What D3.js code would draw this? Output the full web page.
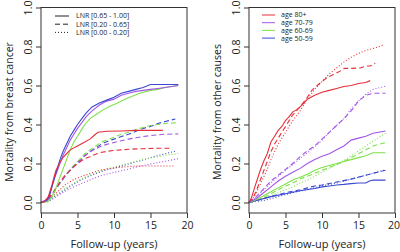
<!DOCTYPE html>
<html>
<head>
<meta charset="utf-8">
<title>Mortality by LNR and age</title>
<script src="https://cdn.jsdelivr.net/npm/d3@7"></script>
<style>
  body { margin: 0; background: #fff; }
  text { font-family: "Open Sans", sans-serif; fill: #222; }
</style>
</head>
<body>
<svg id="svg"></svg>
<script>
var WIDTH = 400, HEIGHT = 252;

// tick labels
var xTicks = [0, 5, 10, 15, 20];
var yTicks = [0, 0.2, 0.4, 0.6, 0.8, 1.0];

// legend labels
var lnrLabels = ["LNR [0.65 - 1.00]", "LNR [0.20 - 0.65]", "LNR [0.00 - 0.20]"];
var ageLabels = ["age 80+", "age 70-79", "age 60-69", "age 50-59"];
var ageColors = ["#e5303a", "#a356e6", "#7fe04a", "#3a48d2"];

// --- breast cancer mortality: [years, value], age 50-59 / 60-69 / 70-79 / 80+, LNR high/mid/low
var bc_blue_hi = [[0,0],[0.8,0.01],[1.2,0.04],[1.7,0.11],[2.2,0.17],[2.6,0.22],[3,0.26],[3.5,0.3],[4,0.34],[4.5,0.37],[5,0.4],[5.6,0.43],[6.2,0.46],[7,0.49],[8,0.51],[9,0.525],[10,0.54],[11,0.56],[12,0.57],[13,0.58],[14,0.59],[15,0.605],[16.5,0.605],[18.8,0.605]];
var bc_purple_hi = [[0,0],[1,0.02],[1.5,0.08],[2,0.14],[2.5,0.19],[3,0.24],[3.5,0.28],[4,0.32],[4.5,0.35],[5,0.38],[5.6,0.41],[6.2,0.44],[7,0.47],[8,0.5],[9,0.52],[10,0.53],[11,0.55],[12,0.56],[13,0.57],[14,0.575],[15,0.58],[16,0.585],[17,0.59],[18.8,0.6]];
var bc_green_hi = [[0,0],[1,0.005],[1.5,0.03],[2,0.07],[2.5,0.12],[3,0.17],[3.5,0.22],[4,0.27],[4.5,0.31],[5,0.34],[5.5,0.37],[6,0.4],[6.7,0.43],[7.5,0.45],[8.5,0.475],[9.5,0.495],[10.5,0.51],[11.5,0.53],[12.5,0.545],[13.5,0.56],[15,0.575],[16,0.58],[17,0.59],[18.8,0.6]];
var bc_red_hi = [[0,0],[0.5,0.005],[1,0.03],[1.5,0.09],[2,0.16],[2.5,0.2],[3,0.23],[3.5,0.25],[4,0.27],[5,0.29],[5.5,0.3],[6,0.31],[6.7,0.325],[7.3,0.345],[7.8,0.36],[9,0.365],[11,0.367],[13,0.37],[16.7,0.37]];

var bc_blue_mid = [[0,0],[0.8,0.01],[1.5,0.04],[2,0.07],[2.6,0.1],[3,0.12],[3.5,0.145],[4,0.167],[4.5,0.185],[5,0.205],[5.5,0.22],[6,0.24],[6.7,0.26],[7.5,0.28],[8.3,0.3],[9,0.312],[10,0.325],[11,0.338],[12,0.35],[13,0.365],[14,0.38],[15,0.39],[16,0.405],[17,0.415],[18.4,0.428]];
var bc_purple_mid = [[0,0],[1,0.01],[1.5,0.035],[2,0.065],[2.6,0.1],[3,0.12],[3.5,0.145],[4,0.165],[4.5,0.185],[5,0.205],[5.5,0.22],[6,0.24],[6.7,0.26],[7.5,0.275],[8.3,0.29],[9,0.298],[10,0.308],[11,0.317],[12,0.325],[13,0.332],[14,0.338],[15,0.343],[16,0.347],[17,0.35],[18.8,0.352]];
var bc_green_mid = [[0,0],[1,0.01],[1.5,0.035],[2,0.065],[2.6,0.1],[3,0.12],[3.5,0.145],[4,0.17],[4.5,0.19],[5,0.21],[5.5,0.23],[6,0.25],[6.7,0.27],[7.5,0.29],[8.3,0.31],[9,0.32],[10,0.335],[11,0.35],[12,0.36],[13,0.375],[14,0.385],[15,0.395],[16,0.4],[17,0.405],[18.8,0.41]];
var bc_red_mid = [[0,0],[0.7,0.01],[1.2,0.03],[1.8,0.06],[2.6,0.105],[3.2,0.135],[4,0.165],[4.7,0.19],[5.4,0.21],[6,0.225],[6.7,0.235],[7.3,0.245],[8,0.255],[9,0.262],[10,0.267],[11,0.27],[12,0.273],[14,0.276],[16,0.278],[17.7,0.278]];

var bc_blue_lo = [[0,0],[1,0.005],[1.6,0.025],[2.5,0.045],[3.4,0.068],[4.5,0.095],[5.7,0.12],[7,0.14],[8,0.155],[9,0.168],[10.3,0.18],[11.5,0.192],[12.6,0.204],[14,0.218],[15,0.23],[16.5,0.245],[17.5,0.255],[18.6,0.265]];
var bc_purple_lo = [[0,0],[1,0.005],[1.7,0.02],[2.5,0.04],[3.4,0.06],[4.5,0.08],[5.7,0.1],[7,0.12],[8,0.135],[9,0.145],[10.3,0.157],[11.5,0.167],[12.6,0.177],[14,0.19],[15,0.197],[16.5,0.208],[17.5,0.215],[18.8,0.225]];
var bc_green_lo = [[0,0],[0.8,0.005],[1.5,0.025],[2.5,0.05],[3.4,0.075],[4.5,0.1],[5.7,0.125],[7,0.145],[8,0.16],[9,0.172],[10.3,0.185],[11.5,0.197],[12.6,0.207],[14,0.22],[15,0.228],[16.5,0.238],[17.5,0.245],[18.8,0.25]];
var bc_red_lo = [[0,0],[0.5,0.005],[1,0.015],[1.5,0.03],[2.1,0.05],[2.7,0.07],[3.4,0.093],[4.5,0.118],[5.7,0.136],[7,0.153],[8,0.165],[9,0.172],[10.3,0.178],[11.5,0.183],[12.6,0.186],[14,0.187],[16,0.187],[18.4,0.187]];

// --- other causes mortality
var oc_red_hi = [[0,0],[0.3,0.02],[0.8,0.08],[1.5,0.16],[2,0.21],[2.5,0.25],[3,0.31],[3.5,0.34],[4,0.37],[4.5,0.39],[5,0.42],[5.5,0.44],[6,0.465],[6.5,0.475],[7,0.49],[7.5,0.51],[8,0.53],[9,0.55],[10,0.565],[11,0.575],[12,0.585],[13,0.595],[14,0.6],[15,0.61],[16,0.615],[16.6,0.625]];
var oc_red_mid = [[0,0],[0.5,0.02],[1,0.06],[1.5,0.11],[2,0.16],[2.5,0.21],[3,0.26],[3.5,0.3],[4,0.33],[4.5,0.36],[5,0.39],[5.5,0.42],[6,0.45],[6.5,0.47],[7,0.49],[7.5,0.515],[8,0.54],[8.5,0.57],[9,0.59],[9.5,0.605],[10,0.62],[10.7,0.64],[11.5,0.655],[12.3,0.67],[13.1,0.688],[14,0.688],[15.2,0.69],[16.1,0.7],[16.6,0.7],[17.3,0.714]];
var oc_red_lo = [[0,0],[0.5,0.02],[1,0.05],[1.5,0.09],[2,0.13],[2.5,0.17],[3,0.22],[3.5,0.26],[4,0.3],[4.5,0.33],[5,0.36],[5.5,0.39],[6,0.42],[6.5,0.445],[7,0.47],[7.5,0.5],[8,0.53],[8.5,0.555],[9,0.58],[10,0.62],[11,0.66],[12,0.69],[13,0.72],[14,0.745],[15,0.765],[16,0.78],[17,0.79],[18.5,0.808]];

var oc_purple_hi = [[0,0],[1,0.02],[2,0.05],[3,0.08],[4,0.11],[5,0.135],[6,0.155],[7,0.175],[8,0.2],[9,0.22],[10,0.237],[11,0.25],[12,0.27],[13,0.29],[14,0.32],[15,0.33],[16,0.34],[17,0.355],[18.7,0.367]];
var oc_purple_mid = [[0,0],[1,0.03],[2,0.07],[3,0.11],[4,0.14],[5,0.17],[6,0.2],[7,0.235],[8,0.265],[9,0.29],[10,0.325],[11,0.36],[12,0.395],[13,0.43],[14,0.47],[15,0.52],[16,0.55],[17,0.56],[18.7,0.56]];
var oc_purple_lo = [[0,0],[1,0.025],[2,0.065],[3,0.1],[4,0.135],[5,0.165],[6,0.195],[7,0.225],[8,0.255],[9,0.285],[10,0.32],[11,0.36],[12,0.395],[13,0.43],[14,0.48],[15,0.52],[16,0.555],[17,0.58],[18.7,0.597]];

var oc_green_hi = [[0,0],[1,0.015],[2,0.035],[3,0.055],[4,0.075],[5,0.095],[6,0.115],[7,0.13],[8,0.145],[9,0.165],[10,0.18],[11,0.19],[12,0.2],[13,0.21],[14,0.22],[15,0.23],[16,0.24],[17,0.255],[18.7,0.255]];
var oc_green_mid = [[0,0],[1,0.01],[2,0.025],[3,0.045],[4,0.065],[5,0.085],[6,0.1],[7,0.12],[8,0.135],[9,0.15],[10,0.165],[11,0.18],[12,0.195],[13,0.21],[14,0.23],[15,0.25],[16,0.27],[17,0.29],[18.7,0.307]];
var oc_green_lo = [[0,0],[1,0.008],[2,0.02],[3,0.035],[4,0.05],[5,0.065],[6,0.08],[7,0.1],[8,0.115],[9,0.135],[10,0.155],[11,0.175],[12,0.195],[13,0.215],[14,0.24],[15,0.265],[16,0.29],[17,0.315],[18.7,0.355]];

var oc_blue_hi = [[0,0],[1,0.01],[3,0.03],[5,0.045],[7,0.06],[9,0.072],[10,0.08],[11,0.085],[12,0.09],[13,0.093],[14,0.097],[15,0.1],[16,0.1],[16.5,0.11],[17,0.115],[18.7,0.115]];
var oc_blue_mid = [[0,0],[1,0.01],[3,0.03],[5,0.05],[7,0.065],[8,0.075],[9,0.085],[10,0.09],[12,0.105],[14,0.12],[15,0.13],[16,0.14],[17,0.15],[18.7,0.165]];
var oc_blue_lo = [[0,0],[2,0.01],[4,0.03],[6,0.05],[8,0.068],[10,0.085],[12,0.1],[14,0.12],[16,0.14],[17.5,0.155],[18.7,0.168]];

var dashes = ["none", "5,3", "1,2"];

var svg = d3.select("#svg").attr("width", WIDTH).attr("height", HEIGHT);

var drawPanel = function(left, ytitle, series){
    var right = left + 146;
    var x = d3.scaleLinear().domain([0, 20]).range([left, right]);
    var y = d3.scaleLinear().domain([0, 1]).range([202.5, 7.5]);
    var g = svg.append("g");

    var line = d3.line()
                 .x(function(d){ return x(d[0]); })
                 .y(function(d){ return y(d[1]); });

    series.forEach(function(s){
        g.append("path")
         .datum(s.data)
         .attr("d", line)
         .attr("fill", "none")
         .attr("stroke", s.color)
         .attr("stroke-width", 1.1)
         .attr("stroke-dasharray", s.dash);
    });

    // box
    g.append("rect")
     .attr("x", left).attr("y", 7.5)
     .attr("width", right - left).attr("height", 213 - 7.5)
     .attr("fill", "none").attr("stroke", "#333").attr("stroke-width", 1);

    var xAxis = g.append("g")
                 .attr("transform", "translate(0,213)")
                 .call(d3.axisBottom(x).tickValues(xTicks).tickSize(5).tickPadding(4).tickFormat(d3.format("d")));
    xAxis.select(".domain").remove();
    xAxis.selectAll("line").attr("stroke", "#333");
    xAxis.selectAll("text").attr("font-size", "10.5px").attr("font-family", "Open Sans").attr("fill", "#222");
    // keep the last label inside the page
    if (right > WIDTH - 8) {
        xAxis.selectAll("text").filter(function(d){ return d === 20; })
             .attr("text-anchor", "end").attr("x", WIDTH - 0.5 - right);
    }

    var yAxis = g.append("g")
                 .attr("transform", "translate(" + left + ",0)")
                 .call(d3.axisLeft(y).tickValues(yTicks).tickSize(5).tickFormat(d3.format(".1f")));
    yAxis.select(".domain").remove();
    yAxis.selectAll("line").attr("stroke", "#333");
    yAxis.selectAll("text")
         .attr("font-size", "10.5px").attr("font-family", "Open Sans").attr("fill", "#222")
         .attr("text-anchor", "middle").attr("x", null)
         .attr("transform", "translate(-13,0) rotate(-90)")
         .attr("dy", "0.35em");

    g.append("text")
     .attr("transform", "translate(" + (left - 28) + "," + 112 + ") rotate(-90)")
     .attr("text-anchor", "middle")
     .attr("font-size", "10.5px")
     .text(ytitle);

    g.append("text")
     .attr("x", (left + right) / 2).attr("y", 248)
     .attr("text-anchor", "middle")
     .attr("font-size", "11px")
     .text("Follow-up (years)");
    return g;
};

var colorsByAge = {red: ageColors[0], purple: ageColors[1], green: ageColors[2], blue: ageColors[3]};
var mk = function(data, c, lvl){ return {data: data, color: colorsByAge[c], dash: dashes[lvl]}; };

var leftPanel = drawPanel(41, "Mortality from breast cancer", [
    mk(bc_blue_lo, "blue", 2), mk(bc_green_lo, "green", 2), mk(bc_purple_lo, "purple", 2), mk(bc_red_lo, "red", 2),
    mk(bc_blue_mid, "blue", 1), mk(bc_green_mid, "green", 1), mk(bc_purple_mid, "purple", 1), mk(bc_red_mid, "red", 1),
    mk(bc_green_hi, "green", 0), mk(bc_purple_hi, "purple", 0), mk(bc_blue_hi, "blue", 0), mk(bc_red_hi, "red", 0)
]);

var rightPanel = drawPanel(249, "Mortality from other causes", [
    mk(oc_blue_lo, "blue", 2), mk(oc_green_lo, "green", 2), mk(oc_purple_lo, "purple", 2), mk(oc_red_lo, "red", 2),
    mk(oc_blue_mid, "blue", 1), mk(oc_green_mid, "green", 1), mk(oc_purple_mid, "purple", 1), mk(oc_red_mid, "red", 1),
    mk(oc_blue_hi, "blue", 0), mk(oc_green_hi, "green", 0), mk(oc_purple_hi, "purple", 0), mk(oc_red_hi, "red", 0)
]);

// legend, left: line types
var legL = svg.append("g").attr("transform", "translate(55,16)");
lnrLabels.forEach(function(lab, i){
    legL.append("line").attr("x1", 0).attr("x2", 14).attr("y1", i * 8.2).attr("y2", i * 8.2)
        .attr("stroke", "#222").attr("stroke-width", 1).attr("stroke-dasharray", dashes[i]);
    legL.append("text").attr("x", 21).attr("y", i * 8.2).attr("dy", "0.35em")
        .attr("font-size", "7px").text(lab);
});

// legend, right: colours
var legR = svg.append("g").attr("transform", "translate(262,15)");
ageLabels.forEach(function(lab, i){
    legR.append("line").attr("x1", 0).attr("x2", 13).attr("y1", i * 7.7).attr("y2", i * 7.7)
        .attr("stroke", ageColors[i]).attr("stroke-width", 1);
    legR.append("text").attr("x", 19).attr("y", i * 7.7).attr("dy", "0.35em")
        .attr("font-size", "7px").text(lab);
});
</script>
</body>
</html>
